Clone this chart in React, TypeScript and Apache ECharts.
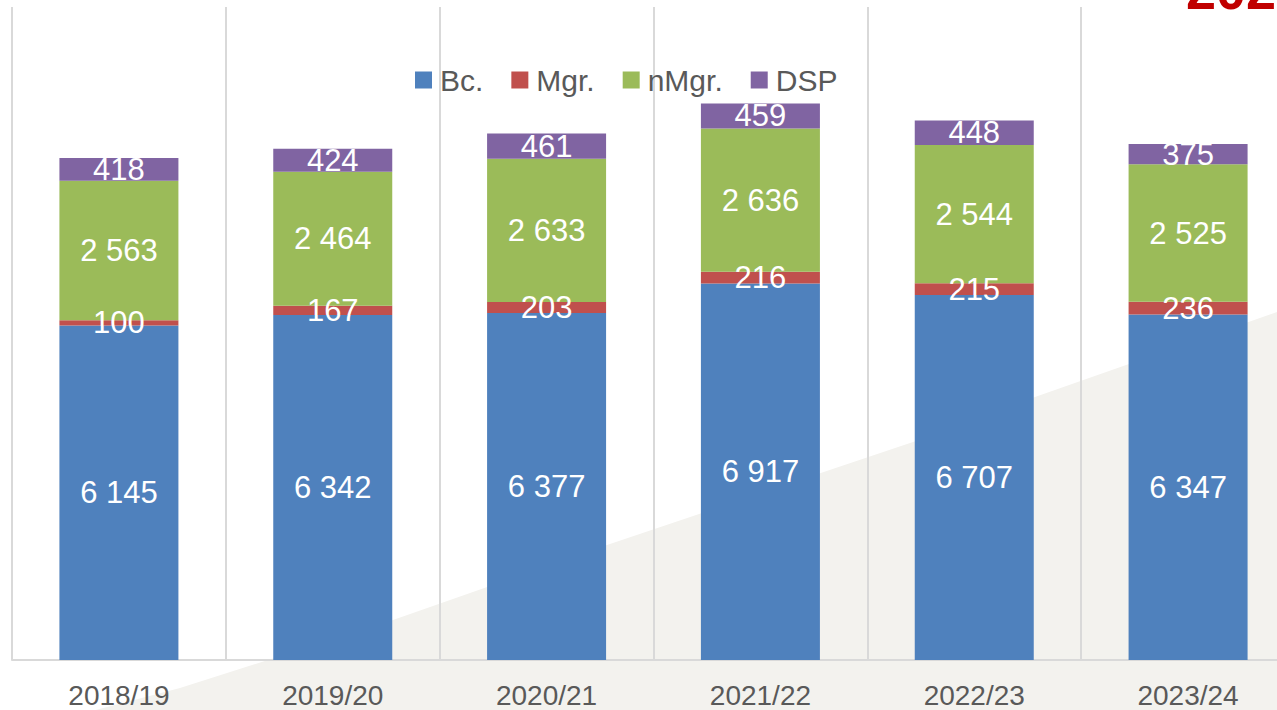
import React, { useEffect, useRef } from "react";
import * as echarts from "echarts";

const categories = ["2018/19", "2019/20", "2020/21", "2021/22", "2022/23", "2023/24"];
const bc = [6145, 6342, 6377, 6917, 6707, 6347];
const mgr = [100, 167, 203, 216, 215, 236];
const nmgr = [2563, 2464, 2633, 2636, 2544, 2525];
const dsp = [418, 424, 461, 459, 448, 375];
const seriesNames = ["Bc.", "Mgr.", "nMgr.", "DSP"];
const seriesColors = ["#4f81bd", "#c0504d", "#9bbb59", "#8064a2"];
const titleText = "2023/24";

const FONT = "'Liberation Sans', Arial, sans-serif";

const fmt = (v: number) => String(v).replace(/\B(?=(\d{3})+(?!\d))/g, " ");

export default function App() {
  const ref = useRef<HTMLDivElement>(null);
  useEffect(() => {
    if (!ref.current) return;
    const chart = echarts.init(ref.current, undefined, { renderer: "svg" });
    const data = [bc, mgr, nmgr, dsp];
    chart.setOption({
      animation: false,
      backgroundColor: "#ffffff",
      textStyle: { fontFamily: FONT },
      legend: {
        left: 410,
        top: 60,
        icon: "rect",
        itemWidth: 17,
        itemHeight: 17,
        itemGap: 28,
        data: seriesNames,
        textStyle: { fontSize: 30, color: "#595959", fontFamily: FONT, padding: [0, 0, 0, 3] },
      },
      graphic: [
        {
          type: "polygon",
          z: -100,
          silent: true,
          shape: {
            points: [
              [0, 735],
              [180, 688],
              [393, 620],
              [607, 545],
              [913, 442],
              [1035, 397],
              [1277, 312],
              [1300, 305],
              [1300, 710],
              [0, 710],
            ],
          },
          style: { fill: "#f3f2ee" },
        },
        {
          type: "text",
          x: 1186,
          y: -10,
          z: 100,
          style: {
            text: titleText,
            fontSize: 54,
            fontWeight: "bold",
            fill: "#c00000",
            fontFamily: FONT,
            textVerticalAlign: "middle",
          },
        },
      ],
      grid: { left: 12, top: 7, bottom: 50, width: 1283, containLabel: false },
      xAxis: {
        type: "category",
        data: categories,
        axisLine: { show: true, lineStyle: { color: "#d9d9d9", width: 2 } },
        axisTick: { show: false },
        splitLine: { show: true, interval: 0, lineStyle: { color: "#d9d9d9", width: 2 } },
        axisLabel: { fontSize: 28, color: "#595959", margin: 21, fontFamily: FONT, interval: 0 },
      },
      yAxis: { type: "value", min: 0, max: 12000, show: false },
      series: seriesNames.map((name, i) => ({
        name,
        type: "bar",
        stack: "total",
        barWidth: 119,
        data: data[i],
        itemStyle: { color: seriesColors[i] },
        label: {
          show: true,
          position: "inside",
          color: "#ffffff",
          fontSize: 31,
          fontFamily: FONT,
          formatter: (p: any) => fmt(p.value),
        },
      })),
    });
    return () => chart.dispose();
  }, []);
  return (
    <div
      style={{ position: "absolute", left: 0, top: 0, width: 1277, height: 710, overflow: "hidden" }}
    >
      <div ref={ref} style={{ width: 1300, height: 710 }} />
    </div>
  );
}
